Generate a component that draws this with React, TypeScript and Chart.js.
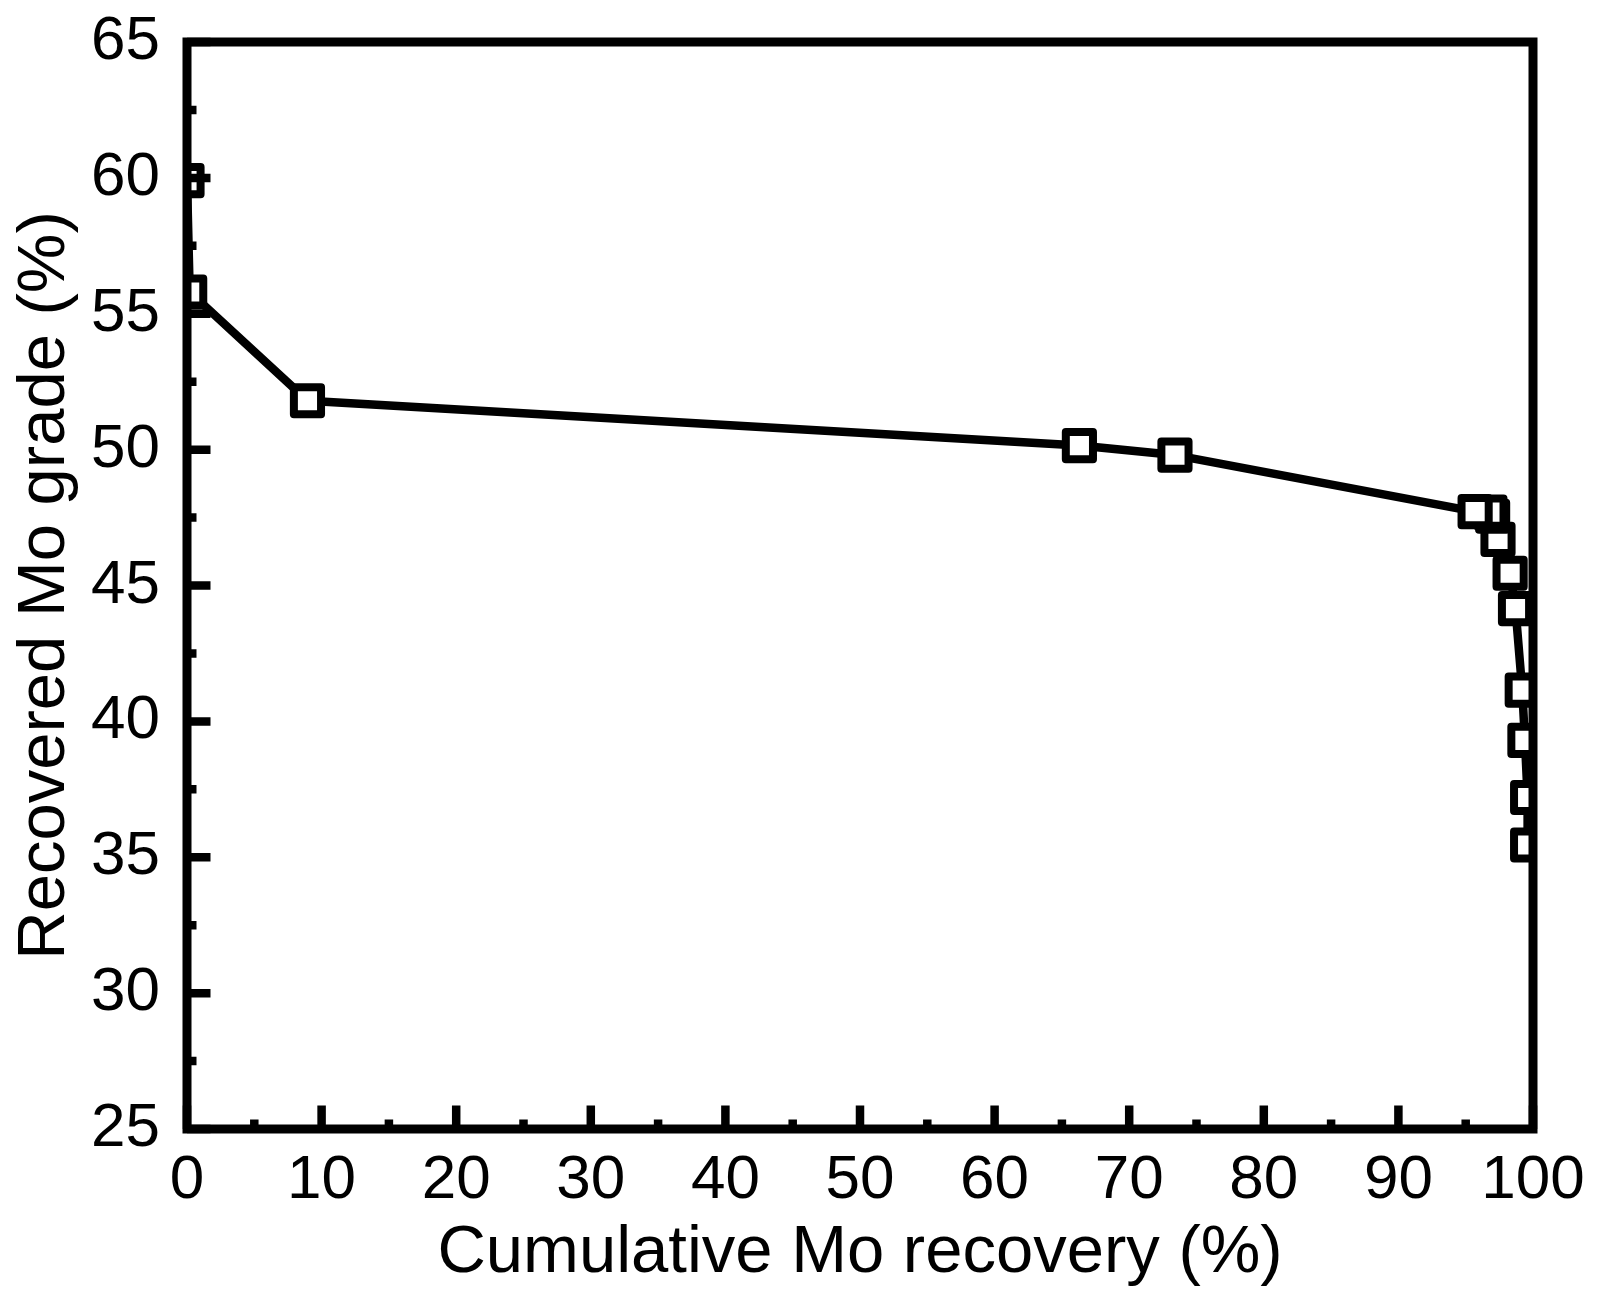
import React, { useEffect, useRef } from 'react';
import Chart from 'chart.js/auto';

// cumulative Mo recovery (%) and recovered Mo grade (%), listed from the last point back to the first
const recovery = [99.6, 99.6, 99.4, 99.2, 98.7, 98.3, 97.4, 97.0, 96.8, 95.7, 73.4, 66.3, 8.95, 0.2, 0];
const grade = [35.45, 37.2, 39.3, 41.15, 44.15, 45.45, 46.7, 47.55, 47.7, 47.72, 49.8, 50.15, 51.8, 55.8, 59.9];

const xMajorTicks = [0, 10, 20, 30, 40, 50, 60, 70, 80, 90, 100];
const xMinorTicks = [5, 15, 25, 35, 45, 55, 65, 75, 85, 95];
const yMajorTicks = [25, 30, 35, 40, 45, 50, 55, 60, 65];
const yMinorTicks = [27.5, 32.5, 37.5, 42.5, 47.5, 52.5, 57.5, 62.5];

const FONT = '"Liberation Sans", Arial, sans-serif';

const framePlugin = {
  id: 'frame',
  beforeDatasetsDraw(chart: any) {
    chart.ctx.save();
    chart.ctx.lineJoin = 'round';
  },
  afterDatasetsDraw(chart: any) {
    const { ctx, chartArea: a, scales } = chart;
    ctx.restore();
    ctx.save();
    ctx.strokeStyle = '#000';
    ctx.lineJoin = 'miter';
    ctx.lineCap = 'butt';
    ctx.lineWidth = 9;
    ctx.strokeRect(a.left, a.top, a.right - a.left, a.bottom - a.top);

    ctx.lineWidth = 8.5;
    ctx.beginPath();
    xMajorTicks.forEach((v) => {
      const px = scales.x.getPixelForValue(v);
      ctx.moveTo(px, a.bottom);
      ctx.lineTo(px, a.bottom - 23.5);
    });
    xMinorTicks.forEach((v) => {
      const px = scales.x.getPixelForValue(v);
      ctx.moveTo(px, a.bottom);
      ctx.lineTo(px, a.bottom - 9.5);
    });
    yMajorTicks.forEach((v) => {
      const py = scales.y.getPixelForValue(v);
      ctx.moveTo(a.left, py);
      ctx.lineTo(a.left + 23.5, py);
    });
    yMinorTicks.forEach((v) => {
      const py = scales.y.getPixelForValue(v);
      ctx.moveTo(a.left, py);
      ctx.lineTo(a.left + 9.5, py);
    });
    ctx.stroke();
    ctx.restore();
  },
};

const App: React.FC = () => {
  const canvasRef = useRef<HTMLCanvasElement>(null);

  useEffect(() => {
    if (!canvasRef.current) return;
    const ctx = canvasRef.current.getContext('2d');
    if (!ctx) return;

    const chart = new Chart(ctx, {
      type: 'line',
      data: {
        datasets: [
          {
            data: recovery.map((x, i) => ({ x, y: grade[i] })),
            borderColor: '#000',
            borderWidth: 8.5,
            borderJoinStyle: 'round',
            pointStyle: 'rect',
            pointRadius: 19.2,
            pointHoverRadius: 19.2,
            pointBorderWidth: 8,
            pointBackgroundColor: '#fff',
            pointBorderColor: '#000',
            tension: 0,
          },
        ],
      },
      options: {
        animation: false,
        responsive: true,
        maintainAspectRatio: false,
        layout: { padding: { left: 0, top: 42, right: 68, bottom: 0 } },
        plugins: {
          legend: { display: false },
          tooltip: { enabled: false },
        },
        scales: {
          x: {
            type: 'linear',
            min: 0,
            max: 100,
            afterBuildTicks: (s: any) => {
              s.ticks = xMajorTicks.map((v) => ({ value: v }));
            },
            afterFit: (s: any) => {
              s.height = 181;
              s.paddingLeft = 0;
              s.paddingRight = 0;
            },
            ticks: {
              color: '#000',
              font: { family: FONT, size: 62 },
              padding: 15,
              maxRotation: 0,
              autoSkip: false,
            },
            grid: { display: false, drawTicks: false },
            border: { display: false },
            title: {
              display: true,
              text: 'Cumulative Mo recovery (%)',
              color: '#000',
              font: { family: FONT, size: 67 },
              padding: { top: 0, bottom: 16 },
            },
          },
          y: {
            type: 'linear',
            min: 25,
            max: 65,
            afterBuildTicks: (s: any) => {
              s.ticks = yMajorTicks.map((v) => ({ value: v }));
            },
            afterFit: (s: any) => {
              s.width = 187;
              s.paddingTop = 0;
              s.paddingBottom = 0;
            },
            ticks: {
              color: '#000',
              font: { family: FONT, size: 62 },
              padding: 27,
              autoSkip: false,
            },
            grid: { display: false, drawTicks: false },
            border: { display: false },
            title: {
              display: true,
              text: 'Recovered Mo grade (%)',
              color: '#000',
              font: { family: FONT, size: 67 },
              padding: { top: 5, bottom: 0 },
            },
          },
        },
      },
      plugins: [framePlugin],
    } as any);

    return () => {
      chart.destroy();
    };
  }, []);

  return (
    <div style={{ position: 'absolute', left: 0, top: 0, width: 1601, height: 1310, background: '#fff' }}>
      <canvas ref={canvasRef}></canvas>
    </div>
  );
};

export default App;
